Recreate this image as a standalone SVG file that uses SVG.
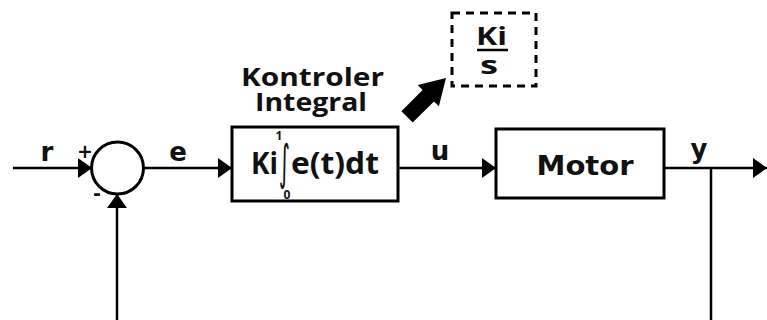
<svg xmlns="http://www.w3.org/2000/svg" width="767" height="320" viewBox="0 0 767 320">
  <style>
    .line { stroke: #000; stroke-width: 2.5; fill: none; }
    .box { stroke: #000; stroke-width: 3; fill: #fff; }
    .dash { stroke: #000; stroke-width: 3; fill: none; stroke-dasharray: 8 6; }
    .sig { font-family: "DejaVu Sans", Verdana, sans-serif; font-weight: bold; font-size: 26px; fill: #111; }
    .lbl { font-family: "Open Sans", "DejaVu Sans", sans-serif; font-weight: bold; fill: #111; }
    .sign { font-family: "DejaVu Sans", sans-serif; font-weight: bold; fill: #111; }
  </style>
  <defs>
    <marker id="arrow" viewBox="0 0 14 20" refX="14" refY="10" markerWidth="14" markerHeight="20" markerUnits="userSpaceOnUse" orient="auto">
      <path d="M0,0 L14,10 L0,20 Z" fill="#000"/>
    </marker>
  </defs>
  <rect width="767" height="320" fill="#fff"/>

  <!-- connectors -->
  <g id="connectors">
    <line class="line" x1="13" y1="168" x2="92" y2="168" marker-end="url(#arrow)"/>
    <line class="line" x1="144" y1="168" x2="232" y2="168" marker-end="url(#arrow)"/>
    <line class="line" x1="398" y1="168" x2="496" y2="168" marker-end="url(#arrow)"/>
    <line class="line" x1="664" y1="168" x2="767" y2="168" marker-end="url(#arrow)"/>
    <line class="line" x1="711" y1="168" x2="711" y2="320"/>
    <line class="line" x1="117" y1="320" x2="117" y2="194" marker-end="url(#arrow)"/>
    <!-- block arrow towards the transfer function -->
    <path d="M446,78 L438.9,106.3 L434,101.4 L412.7,122.6 L401.4,111.2 L422.6,90 L417.7,85.1 Z" fill="#000"/>
  </g>

  <!-- summing junction -->
  <g id="sum">
    <circle cx="117.5" cy="168" r="26" class="box"/>
    <text x="85" y="158" class="sign" font-size="19" text-anchor="middle">+</text>
    <text x="97" y="200" class="sign" font-size="19" text-anchor="middle">-</text>
  </g>

  <!-- signal labels -->
  <g id="signals">
    <text x="47" y="161" class="sig" text-anchor="middle">r</text>
    <text x="178" y="161" class="sig" text-anchor="middle">e</text>
    <text x="440" y="160" class="sig" text-anchor="middle">u</text>
    <text x="699" y="158" class="sig" text-anchor="middle">y</text>
  </g>

  <!-- integral controller -->
  <g id="controller">
    <text x="241" y="86" class="lbl" font-size="25" textLength="143" lengthAdjust="spacingAndGlyphs">Kontroler</text>
    <text x="255" y="111" class="lbl" font-size="25" textLength="112" lengthAdjust="spacingAndGlyphs">Integral</text>
    <rect x="232" y="127" width="166" height="74" class="box"/>
    <text x="251" y="174" class="lbl" font-size="31" textLength="27" lengthAdjust="spacingAndGlyphs">Ki</text>
    <text x="284.5" y="179" font-family="DejaVu Sans, sans-serif" font-size="48" fill="#111" text-anchor="middle" textLength="11" lengthAdjust="spacingAndGlyphs">∫</text>
    <text x="279" y="140" class="lbl" font-size="12" text-anchor="middle">1</text>
    <text x="287" y="199" class="lbl" font-size="12" text-anchor="middle">0</text>
    <text x="291" y="174" class="lbl" font-size="31" textLength="88" lengthAdjust="spacingAndGlyphs">e(t)dt</text>
  </g>

  <!-- transfer function Ki/s -->
  <g id="transfer">
    <rect x="452" y="13" width="84" height="73" class="dash"/>
    <text x="476" y="45" class="lbl" font-size="25" textLength="31" lengthAdjust="spacingAndGlyphs">Ki</text>
    <line x1="477" y1="50" x2="508" y2="50" stroke="#000" stroke-width="2.5"/>
    <text x="480" y="74" class="lbl" font-size="25" textLength="18" lengthAdjust="spacingAndGlyphs">s</text>
  </g>

  <!-- plant -->
  <g id="motor">
    <rect x="496" y="129" width="168" height="69" class="box"/>
    <text x="585" y="175" class="sig" font-size="27" text-anchor="middle" textLength="97" lengthAdjust="spacingAndGlyphs">Motor</text>
  </g>
</svg>
